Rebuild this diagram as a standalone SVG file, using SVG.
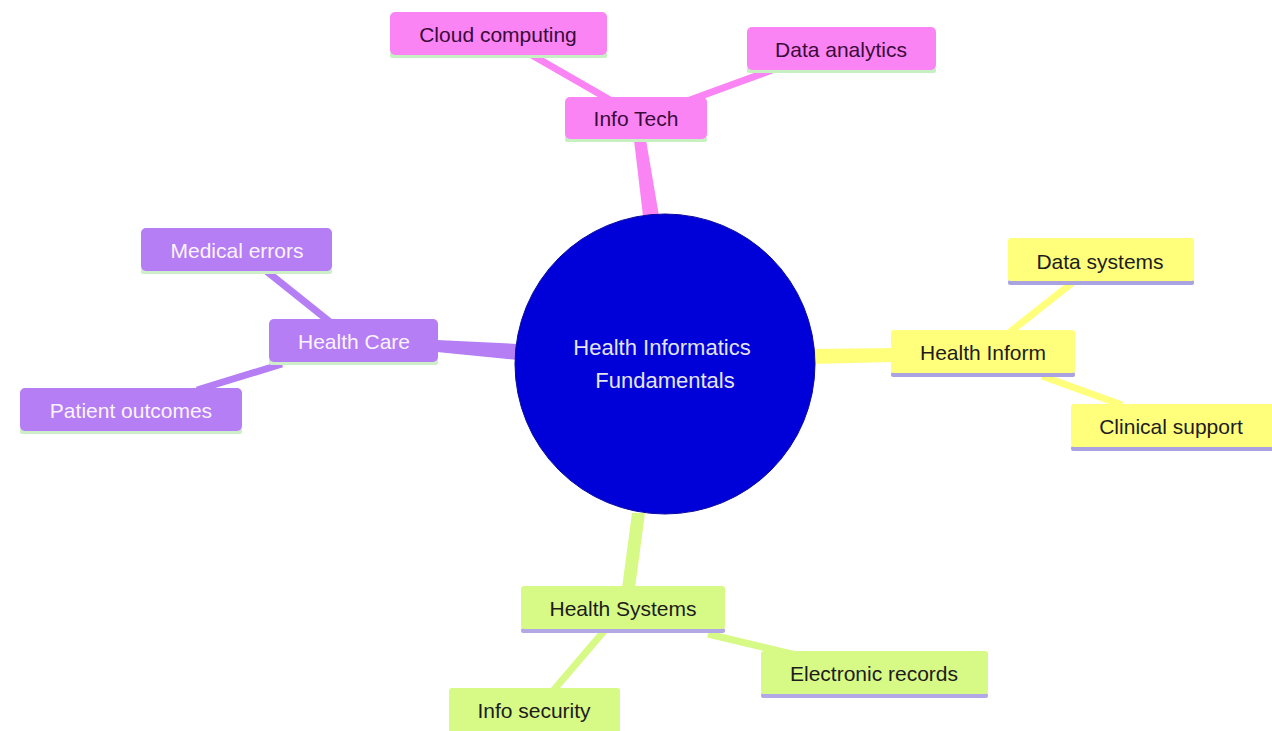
<svg xmlns="http://www.w3.org/2000/svg" width="1272" height="731" viewBox="0 0 1272 731">
<style>
text{font-family:"Liberation Sans",Arial,sans-serif;font-size:21px;text-anchor:middle;dominant-baseline:central}
text.r{font-size:22px;fill:#e4e4f2}
.pk rect.b{fill:#fb84f4}.pk .ln{fill:#c6f0c2}.pk text{fill:#3a0b3a}
.pu rect.b{fill:#b57ef4}.pu .ln{fill:#cdeec8}.pu text{fill:#fbf4ff}
.ye rect.b{fill:#ffff7c}.ye .ln{fill:#a9a3e2}.ye text{fill:#1c1c1c}
.gr rect.b{fill:#d7f986}.gr .ln{fill:#b2a8e6}.gr text{fill:#1c1c1c}
.e-pk{stroke:#fb84f4}.e-pu{stroke:#b57ef4}.e-ye{stroke:#ffff7c}.e-gr{stroke:#d7f986}
.c{stroke-width:7;stroke-linecap:butt;fill:none}
</style>
<rect width="1272" height="731" fill="#ffffff"/>
<g id="connectors">
<polygon points="634,140 646,140 659,216 643,216" fill="#fb84f4"/>
<polygon points="437,340 437,352 518,360 518,344" fill="#b57ef4"/>
<polygon points="812,349 812,364 892,362 892,348" fill="#ffff7c"/>
<polygon points="632,513 645,513 635,588 622,588" fill="#d7f986"/>
<line class="c e-pk" x1="530" y1="54" x2="610" y2="100"/>
<line class="c e-pk" x1="772" y1="70" x2="690" y2="100"/>
<line class="c e-pu" x1="265" y1="270" x2="330" y2="322"/>
<line class="c e-pu" x1="197" y1="390" x2="282" y2="364"/>
<line class="c e-ye" x1="1072" y1="283" x2="1010" y2="332"/>
<line class="c e-ye" x1="1042" y1="376" x2="1122" y2="405"/>
<line class="c e-gr" x1="708" y1="634" x2="800" y2="656"/>
<line class="c e-gr" x1="605" y1="630" x2="552" y2="692"/>
</g>
<g id="root">
<circle cx="665" cy="364" r="150" fill="#0000d8" stroke="#0a0aa0" stroke-width="1"/>
<text class="r" x="662" y="347">Health Informatics</text>
<text class="r" x="665" y="380">Fundamentals</text>
</g>
<g id="info-tech" class="pk"><rect class="ln" x="565" y="136" width="142" height="6" rx="2"/><rect class="b" x="565" y="97" width="142" height="42" rx="5"/><text x="636" y="118">Info Tech</text></g>
<g id="cloud-computing" class="pk"><rect class="ln" x="390" y="52" width="217" height="6" rx="2"/><rect class="b" x="390" y="12" width="217" height="43" rx="5"/><text x="498" y="34">Cloud computing</text></g>
<g id="data-analytics" class="pk"><rect class="ln" x="747" y="67" width="189" height="6" rx="2"/><rect class="b" x="747" y="27" width="189" height="43" rx="5"/><text x="841" y="49">Data analytics</text></g>
<g id="health-care" class="pu"><rect class="ln" x="269" y="359" width="169" height="6" rx="2"/><rect class="b" x="269" y="319" width="169" height="43" rx="5"/><text x="354" y="341">Health Care</text></g>
<g id="medical-errors" class="pu"><rect class="ln" x="141" y="268" width="191" height="6" rx="2"/><rect class="b" x="141" y="228" width="191" height="43" rx="5"/><text x="237" y="250">Medical errors</text></g>
<g id="patient-outcomes" class="pu"><rect class="ln" x="20" y="428" width="222" height="6" rx="2"/><rect class="b" x="20" y="388" width="222" height="43" rx="5"/><text x="131" y="410">Patient outcomes</text></g>
<g id="health-inform" class="ye"><rect class="ln" x="891" y="372" width="184" height="5" rx="2"/><rect class="b" x="891" y="330" width="184" height="43" rx="3"/><text x="983" y="352">Health Inform</text></g>
<g id="data-systems" class="ye"><rect class="ln" x="1008" y="280" width="186" height="5" rx="2"/><rect class="b" x="1008" y="238" width="186" height="43" rx="3"/><text x="1100" y="261">Data systems</text></g>
<g id="clinical-support" class="ye"><rect class="ln" x="1071" y="446" width="205" height="5" rx="2"/><rect class="b" x="1071" y="404" width="205" height="43" rx="3"/><text x="1171" y="426">Clinical support</text></g>
<g id="health-systems" class="gr"><rect class="ln" x="521" y="628" width="204" height="5" rx="2"/><rect class="b" x="521" y="586" width="204" height="43" rx="3"/><text x="623" y="608">Health Systems</text></g>
<g id="electronic-records" class="gr"><rect class="ln" x="761" y="693" width="227" height="5" rx="2"/><rect class="b" x="761" y="651" width="227" height="43" rx="3"/><text x="874" y="673">Electronic records</text></g>
<g id="info-security" class="gr"><rect class="b" x="449" y="688" width="171" height="47" rx="3"/><text x="534" y="710">Info security</text></g>
</svg>
